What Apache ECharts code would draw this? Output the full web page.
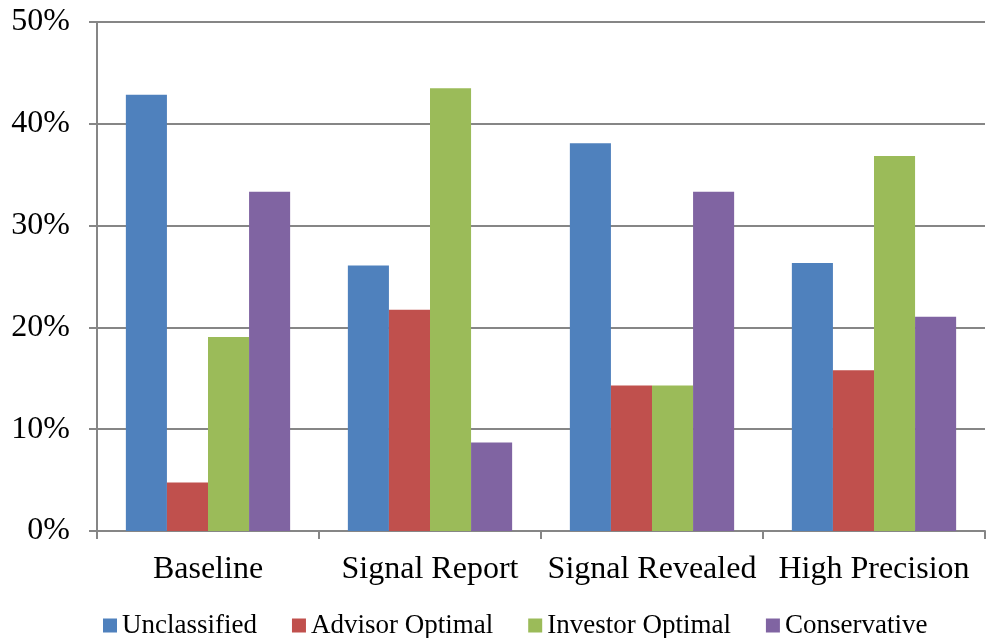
<!DOCTYPE html>
<html>
<head>
<meta charset="utf-8">
<script src="https://cdn.jsdelivr.net/npm/echarts@6/dist/echarts.min.js"></script>
<style>html,body{margin:0;padding:0;background:#fff}#c{width:991px;height:638px}</style>
</head>
<body>
<div id="c"></div>
<script>
var categories = ['Baseline', 'Signal Report', 'Signal Revealed', 'High Precision'];
var seriesNames = ['Unclassified', 'Advisor Optimal', 'Investor Optimal', 'Conservative'];
var unclassified = [42.86, 26.09, 38.10, 26.32];
var advisorOptimal = [4.76, 21.74, 14.29, 15.79];
var investorOptimal = [19.05, 43.48, 14.29, 36.84];
var conservative = [33.33, 8.70, 33.33, 21.05];
var yTicks = [0, 10, 20, 30, 40, 50];
var colors = ['#4F81BD', '#C0504D', '#9BBB59', '#8064A2'];

var values = [unclassified, advisorOptimal, investorOptimal, conservative];
var font = 'Liberation Serif';
var chart = echarts.init(document.getElementById('c'));
chart.setOption({
  animation: false,
  color: colors,
  grid: {left: 97, right: 6, top: 22, bottom: 107},
  legend: {
    top: 610, left: 101, padding: 2,
    itemWidth: 14, itemHeight: 14, itemGap: 35,
    icon: 'rect',
    textStyle: {fontFamily: font, fontSize: 27, color: '#000'},
    data: seriesNames
  },
  xAxis: {
    type: 'category', data: categories,
    axisLine: {lineStyle: {color: '#868686', width: 2}},
    axisTick: {show: true, length: 8, lineStyle: {color: '#868686', width: 2}},
    axisLabel: {fontFamily: font, fontSize: 32, color: '#000', margin: 23, interval: 0}
  },
  yAxis: {
    type: 'value', min: yTicks[0], max: yTicks[yTicks.length-1], interval: 10,
    axisLine: {show: true, lineStyle: {color: '#868686', width: 2}},
    axisTick: {show: true, length: 8, lineStyle: {color: '#868686', width: 2}},
    splitLine: {lineStyle: {color: '#868686', width: 2}},
    axisLabel: {fontFamily: font, fontSize: 32, color: '#000', margin: 27, formatter: '{value}%'}
  },
  series: seriesNames.map(function(n, i){
    return {name: n, type: 'bar', data: values[i], barGap: '0%', barCategoryGap: '26%'};
  })
});
</script>
</body>
</html>
